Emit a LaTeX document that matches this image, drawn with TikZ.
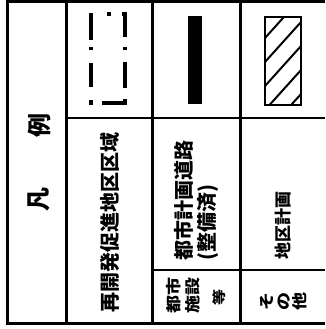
\documentclass[tikz,border=0pt]{standalone}
\usepackage{fontspec}
\newfontfamily\jp{Noto Sans CJK JP}
\newcommand{\jpsz}[1]{\jp\fontsize{#1}{#1}\selectfont}
\newcommand{\jpbsz}[1]{\jp\bfseries\fontsize{#1}{#1}\selectfont}
\begin{document}
\begin{tikzpicture}[x=1pt,y=-1pt,
  grid/.style={line width=3pt},
  hgrid/.style={line width=2.2pt},
  dashdot/.style={line width=4pt},
  hatchline/.style={line width=2pt},
  lbl/.style={rotate=90, inner sep=0pt}]
\useasboundingbox (0,0) rectangle (325,329);
\fill[white] (0,0) rectangle (325,329);
% table grid
\draw[grid] (325,2) -- (7,2) -- (7,323) -- (325,323);
\draw[grid] (66,2) -- (66,323);
\draw[grid] (152,2) -- (152,323);
\draw[grid] (240,2) -- (240,323);
\draw[hgrid] (66,118) -- (325,118);
\draw[hgrid] (152,270) -- (325,270);
% dash-dot rectangle symbol
\draw[dashdot] (91,13) -- (91,40);
\draw[dashdot] (91,47) -- (91,50);
\draw[dashdot] (91,63) -- (91,87);
\draw[dashdot] (91,100) -- (91,105);
\draw[dashdot] (107,14) -- (111,14);
\draw[dashdot] (122,14) -- (125,14) -- (125,37);
\draw[dashdot] (125,47) -- (125,50);
\draw[dashdot] (125,62) -- (125,88);
\draw[dashdot] (102,103) -- (125,103) -- (125,99);
% black bar symbol
\fill (188,16) rectangle (202,104);
% hatched rectangle symbol
\begin{scope}
\clip (265,17) rectangle (301,105);
\foreach \c in {38,62,86,110,134} \draw[hatchline] (265,\c) -- ++(36,-40);
\end{scope}
\draw[line width=2.4pt] (265,17) rectangle (301,105);
% texts
\node[lbl, font=\jpbsz{24}] (fan) at (39,199) {凡};
\node[lbl, font=\jpbsz{24}] (rei) at (39,125) {例};
\node[lbl, font=\jpbsz{20}] (saikaihatsu) at (110,222) {再開発促進地区区域};
\node[lbl, font=\jpbsz{20}, anchor=west] (doro) at (184,261) {都市計画道路};
\node[lbl, font=\jpbsz{20}, anchor=west] (seibi) at (208,261) {(整備済)};
\node[lbl, font=\jpbsz{17}] (chiku) at (283,225) {地区計画};
\node[lbl, font=\jpbsz{18}, yscale=0.85] (toshi) at (174,295) {都市};
\node[lbl, font=\jpbsz{18}, yscale=0.85] (shisetsu) at (193,295) {施設};
\node[lbl, font=\jpbsz{16}, yscale=0.85] (tou) at (219,297) {等};
\node[lbl, font=\jpbsz{18}, yscale=0.85] (so) at (267,301) {そ};
\node[lbl, font=\jpbsz{18}, yscale=0.85] (no) at (284,301) {の};
\node[lbl, font=\jpbsz{18}, yscale=0.85] (ta) at (300,301) {他};
\end{tikzpicture}
\end{document}
